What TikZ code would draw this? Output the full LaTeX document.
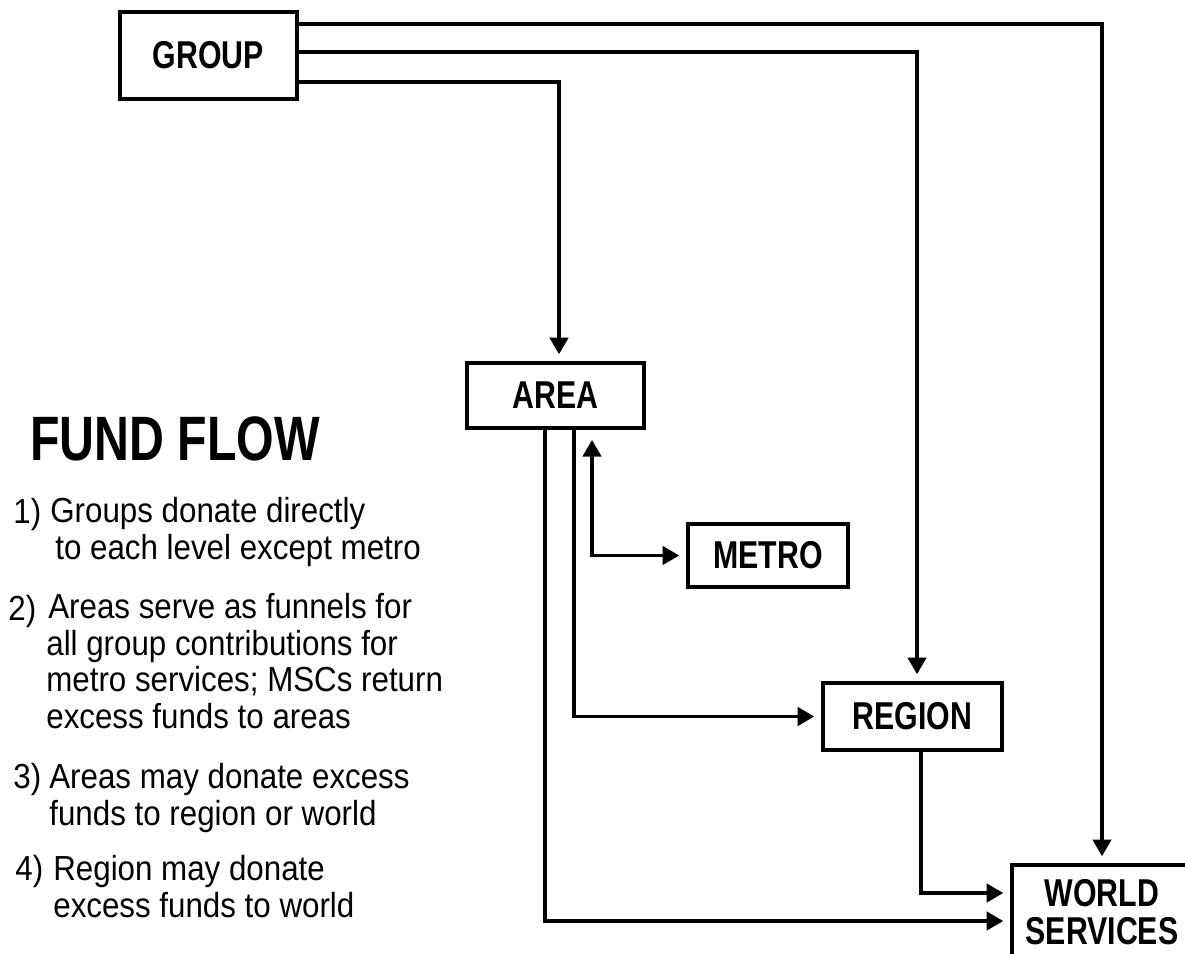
\documentclass[tikz,border=0pt]{standalone}
\usepackage{fontspec}
\setmainfont{Liberation Sans}
\newfontfamily\notefont[FakeStretch=0.9]{Liberation Sans}
\newfontfamily\boxfont[FakeStretch=0.78]{Liberation Sans}
\newfontfamily\headfont[FakeStretch=0.77]{Liberation Sans}
\usepackage{tikz}
\usetikzlibrary{arrows.meta}
\tikzset{
stage/.style = {rectangle, draw=black, line width=2pt, inner sep=0pt, align=center,
                font=\boxfont\bfseries\fontsize{22.1}{21.5}\selectfont},
flow/.style = {-{Triangle[length=9.5pt,width=10.5pt]}, line width=1.9pt, shorten >=4pt},
note/.style = {anchor=base west, inner sep=0pt, align=left,
               font=\notefont\fontsize{19.8}{20.7}\selectfont} % base = last line
}

\begin{document}
\begin{tikzpicture}[x=0.02cm, y=-0.02cm]
\useasboundingbox (0,0) rectangle (1185,953);

\node[stage, minimum width=3.54cm, minimum height=1.74cm] (group) at (208.5,55.5) {GROUP};
\node[stage, minimum width=3.54cm, minimum height=1.3cm] (area) at (555.5,395.5) {AREA};
\node[stage, minimum width=3.2cm, minimum height=1.26cm] (metro) at (768,555.5) {METRO};
\node[stage, minimum width=3.58cm, minimum height=1.34cm] (region) at (912.5,716.5) {REGION};
\node[stage, minimum width=3.6cm, minimum height=1.9cm] (world) at (1102,912.5) {WORLD\\SERVICES};
\coordinate (mtop) at (592,440);

\node[anchor=base west, inner sep=0pt, font=\headfont\bfseries\fontsize{35.7}{36}\selectfont] (title) at (30,460) {FUND FLOW};
\node[note] (n1) at (13,523) {1)};
\node[note] (t1) at (50,559) {Groups donate directly\\\hspace*{0.1cm}to each level except metro};
\node[note] (n2) at (8,620) {2)};
\node[note] (t2) at (46,728) {\hspace*{0.04cm}Areas serve as funnels for\\all group contributions for\\metro services; MSCs return\\excess funds to areas};
\node[note] (n3) at (13,788) {3)};
\node[note] (t3) at (49,825) {Areas may donate excess\\funds to region or world};
\node[note] (n4) at (15,880) {4)};
\node[note] (t4) at (53,917) {Region may donate\\excess funds to world};

\draw[flow] ([yshift=0.63cm]group.east) -| (world.north);
\draw[flow] ([yshift=0.07cm]group.east) -| ([xshift=0.09cm]region.north);
\draw[flow] ([yshift=-0.53cm]group.east) -| ([xshift=0.07cm]area.north);
\draw[flow] ([xshift=-0.21cm]area.south) |- ([yshift=-0.17cm]world.west);
\draw[flow] ([xshift=0.37cm]area.south) |- (region.west);
\draw[flow, {Triangle[length=9.5pt,width=10.5pt]}-{Triangle[length=9.5pt,width=10.5pt]}] (mtop) |- (metro.west);
\draw[flow] ([xshift=0.17cm]region.south) |- ([yshift=0.39cm]world.west);
\end{tikzpicture}
\end{document}
